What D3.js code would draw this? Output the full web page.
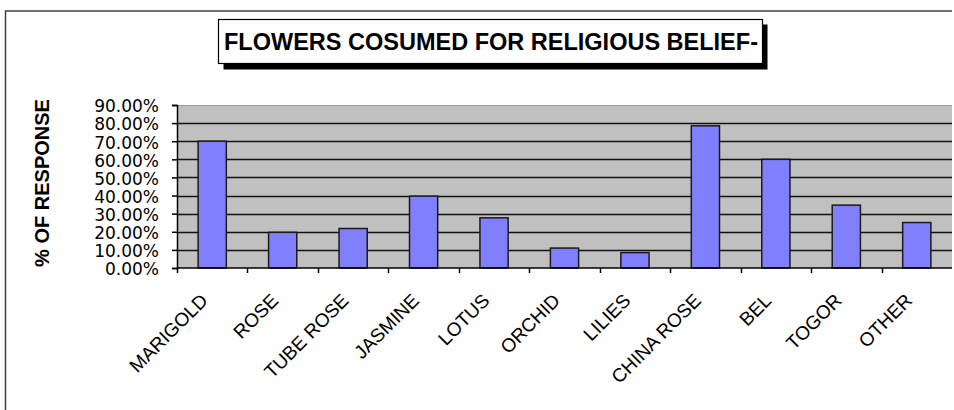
<!DOCTYPE html>
<html>
<head>
<meta charset="utf-8">
<script src="https://cdn.jsdelivr.net/npm/d3@7"></script>
<style>
  html, body { margin: 0; padding: 0; background: #fff; }
  svg { display: block; }
</style>
</head>
<body>
<svg id="chart" width="954" height="410"></svg>
<script>
const categories = ["MARIGOLD", "ROSE", "TUBE ROSE", "JASMINE", "LOTUS", "ORCHID", "LILIES", "CHINA ROSE", "BEL", "TOGOR", "OTHER"];
const values = [0.70, 0.197, 0.218, 0.397, 0.277, 0.11, 0.085, 0.785, 0.60, 0.347, 0.251];
const yTicks = [0, 0.1, 0.2, 0.3, 0.4, 0.5, 0.6, 0.7, 0.8, 0.9];
const titleText = "FLOWERS COSUMED FOR RELIGIOUS BELIEF-";
const yTitle = "% OF RESPONSE";

const svg = d3.select("#chart");
const plot = { left: 177, right: 952, top: 105, bottom: 268 };

// outer frame (top + left edges)
svg.append("path")
  .attr("d", `M5.5,410 V11 H952`)
  .attr("fill", "none")
  .attr("stroke", "#404040")
  .attr("stroke-width", 1.5);

// title box with shadow
svg.append("rect").attr("x", 223.5).attr("y", 24.5).attr("width", 544).attr("height", 45).attr("fill", "#000");
svg.append("rect").attr("x", 218.5).attr("y", 19.5).attr("width", 544).attr("height", 44)
  .attr("fill", "#fff").attr("stroke", "#000").attr("stroke-width", 1.2);
svg.append("text")
  .attr("x", 491).attr("y", 50)
  .attr("text-anchor", "middle")
  .attr("font-family", "Liberation Sans, Arial, sans-serif")
  .attr("font-weight", "bold")
  .attr("font-size", 23.5)
  .attr("fill", "#000")
  .text(titleText);

const x = d3.scaleBand().domain(categories).range([plot.left, plot.right]).paddingInner(0.6).paddingOuter(0.3);
const xb = d3.scaleBand().domain(categories).range([plot.left, plot.right]).padding(0);
const y = d3.scaleLinear().domain([0, 0.9]).range([plot.bottom, plot.top]);

// plot area
svg.append("rect")
  .attr("x", plot.left).attr("y", plot.top)
  .attr("width", plot.right - plot.left).attr("height", plot.bottom - plot.top)
  .attr("fill", "#C0C0C0");
svg.append("line")
  .attr("x1", plot.left).attr("x2", plot.right)
  .attr("y1", plot.top + 0.5).attr("y2", plot.top + 0.5)
  .attr("stroke", "#9a9a9a").attr("stroke-width", 1);

// gridlines
svg.append("g").selectAll("line")
  .data(yTicks.filter(d => d > 0 && d < 0.9))
  .join("line")
  .attr("x1", plot.left).attr("x2", plot.right)
  .attr("y1", d => Math.round(y(d)) + 0.5).attr("y2", d => Math.round(y(d)) + 0.5)
  .attr("stroke", "#111").attr("stroke-width", 1.5);

// bars
svg.append("g").selectAll("rect")
  .data(categories)
  .join("rect")
  .attr("x", d => x(d))
  .attr("width", x.bandwidth())
  .attr("y", (d, i) => y(values[i]))
  .attr("height", (d, i) => y(0) - y(values[i]))
  .attr("fill", "#8080FF")
  .attr("stroke", "#1a1a1a")
  .attr("stroke-width", 1.5);

// y axis
const yAxis = d3.axisLeft(y).tickValues(yTicks).tickSize(5).tickFormat(d => (d * 100).toFixed(2) + "%");
const gy = svg.append("g").attr("transform", `translate(${plot.left},0)`).call(yAxis);
gy.select(".domain").attr("stroke", "#000").attr("stroke-width", 1.5);
gy.selectAll(".tick line").attr("stroke", "#000").attr("stroke-width", 1.5);
gy.selectAll(".tick text")
  .attr("font-family", "DejaVu Sans, Verdana, sans-serif")
  .attr("font-size", 17)
  .attr("fill", "#000")
  .attr("x", -18)
  .attr("dy", "0.4em");

// x axis baseline and boundary ticks
svg.append("line")
  .attr("x1", plot.left).attr("x2", plot.right)
  .attr("y1", plot.bottom).attr("y2", plot.bottom)
  .attr("stroke", "#000").attr("stroke-width", 1.5);
svg.append("g").selectAll("line")
  .data(categories)
  .join("line")
  .attr("x1", d => Math.round(xb(d)) + 0.5).attr("x2", d => Math.round(xb(d)) + 0.5)
  .attr("y1", plot.bottom).attr("y2", plot.bottom + 5)
  .attr("stroke", "#000").attr("stroke-width", 1.5);

// x labels
svg.append("g").selectAll("text")
  .data(categories)
  .join("text")
  .attr("transform", d => `translate(${xb(d) + xb.bandwidth() / 2 - 8},${297}) rotate(-45)`)
  .attr("text-anchor", "end")
  .attr("dy", "0.35em")
  .attr("font-family", "Liberation Sans, Arial, sans-serif")
  .attr("font-size", 19)
  .attr("fill", "#000")
  .text(d => d);

// y title
svg.append("text")
  .attr("transform", `translate(49,183) rotate(-90)`)
  .attr("text-anchor", "middle")
  .attr("font-family", "Liberation Sans, Arial, sans-serif")
  .attr("font-weight", "bold")
  .attr("font-size", 20)
  .attr("fill", "#000")
  .text(yTitle);
</script>
</body>
</html>
